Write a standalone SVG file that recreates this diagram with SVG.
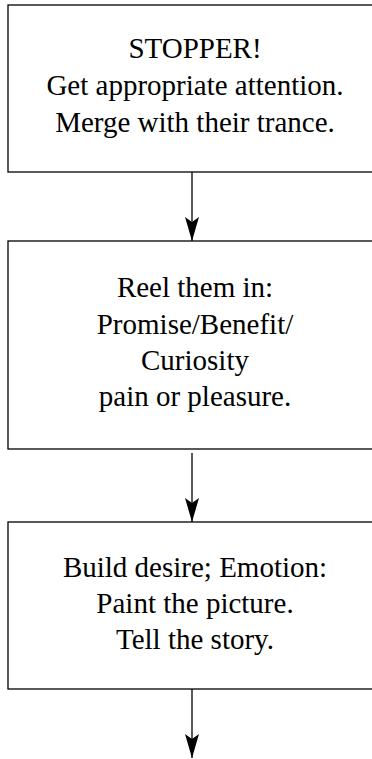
<svg xmlns="http://www.w3.org/2000/svg" width="372" height="759" viewBox="0 0 372 759">
<defs>
<style>
.box{fill:#fff;stroke:#000;stroke-width:1.3}
.t{font-family:"Liberation Serif","Times New Roman",serif;font-size:29px;fill:#000;text-anchor:middle}
.c{stroke:#000;stroke-width:1.3;fill:none}
</style>
<marker id="ah" markerUnits="userSpaceOnUse" markerWidth="24" markerHeight="14" refX="24" refY="7" viewBox="0 0 24 14" orient="auto">
<path d="M0,0 L5,7 L0,14 L24,7 Z" fill="#000"/>
</marker>
</defs>
<rect width="372" height="759" fill="#fff"/>
<g id="connectors">
<line class="c" x1="192" y1="172" x2="192" y2="241" marker-end="url(#ah)"/>
<line class="c" x1="192" y1="453" x2="192" y2="522" marker-end="url(#ah)"/>
<line class="c" x1="192" y1="689" x2="192" y2="758" marker-end="url(#ah)"/>
</g>
<g id="node1">
<rect class="box" x="8" y="5" width="368" height="167"/>
<text class="t" x="195" y="58">STOPPER!</text>
<text class="t" x="195" y="95">Get appropriate attention.</text>
<text class="t" x="195" y="132">Merge with their trance.</text>
</g>
<g id="node2">
<rect class="box" x="8" y="241" width="368" height="208"/>
<text class="t" x="195" y="297">Reel them in:</text>
<text class="t" x="195" y="334">Promise/Benefit/</text>
<text class="t" x="195" y="370">Curiosity</text>
<text class="t" x="195" y="406">pain or pleasure.</text>
</g>
<g id="node3">
<rect class="box" x="8" y="522" width="368" height="167"/>
<text class="t" x="195" y="577">Build desire; Emotion:</text>
<text class="t" x="195" y="613">Paint the picture.</text>
<text class="t" x="195" y="649">Tell the story.</text>
</g>
</svg>
